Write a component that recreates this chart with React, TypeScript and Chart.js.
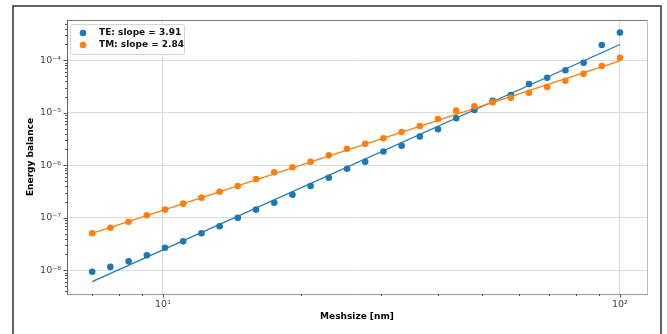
import React, { useEffect, useRef } from 'react';
import { Chart, registerables } from 'chart.js';

Chart.register(...registerables);

// ---- data ----
const meshsize = [7.0, 7.67, 8.41, 9.22, 10.1, 11.07, 12.14, 13.3, 14.58, 15.98, 17.52, 19.2, 21.04, 23.06, 25.28, 27.7, 30.37, 33.28, 36.48, 39.98, 43.82, 48.03, 52.64, 57.7, 63.24, 69.31, 75.97, 83.27, 91.26, 100.0];
const teEnergy = [9.4e-9, 1.16e-8, 1.48e-8, 1.93e-8, 2.69e-8, 3.56e-8, 5.07e-8, 6.89e-8, 1.0e-7, 1.43e-7, 1.94e-7, 2.75e-7, 4.03e-7, 5.81e-7, 8.61e-7, 1.17e-6, 1.83e-6, 2.36e-6, 3.54e-6, 4.85e-6, 7.86e-6, 1.13e-5, 1.7e-5, 2.18e-5, 3.54e-5, 4.66e-5, 6.45e-5, 9.0e-5, 1.95e-4, 3.39e-4];
const tmEnergy = [5.07e-8, 6.47e-8, 8.43e-8, 1.12e-7, 1.43e-7, 1.86e-7, 2.42e-7, 3.14e-7, 4.03e-7, 5.48e-7, 7.36e-7, 9.16e-7, 1.17e-6, 1.55e-6, 2.07e-6, 2.58e-6, 3.27e-6, 4.31e-6, 5.61e-6, 7.62e-6, 1.1e-5, 1.33e-5, 1.59e-5, 1.94e-5, 2.41e-5, 3.1e-5, 4.08e-5, 5.56e-5, 7.78e-5, 1.12e-4];
const fitMeshsize = [7, 100];
const teFit = [6.1e-9, 2.0e-4];
const tmFit = [5.05e-8, 9.8e-5];
const seriesLabels = ['TE: slope = 3.91', 'TM: slope = 2.84'];

const xMajorTicks = [10, 100];
const xTickLabels = ['10\u00B9', '10\u00B2'];
const yMajorTicks = [1e-8, 1e-7, 1e-6, 1e-5, 1e-4];
const yTickLabels = ['10\u207B\u2078', '10\u207B\u2077', '10\u207B\u2076', '10\u207B\u2075', '10\u207B\u2074'];
const minorMultipliers = [2, 3, 4, 5, 6, 7, 8, 9];
const xRange = [6.165, 114.6];
const yRange = [3.537e-9, 5.856e-4];
const xTitle = 'Meshsize [nm]';
const yTitle = 'Energy balance';

const BLUE = '#1f77b4';
const ORANGE = '#ff7f0e';
const FONT = "'DejaVu Sans', sans-serif";

function buildTicks(majors: number[], labels: string[], range: number[]) {
  const ticks: any[] = majors.map((v, i) => ({ value: v, major: true, lbl: labels[i] }));
  const lo = Math.floor(Math.log10(range[0]));
  const hi = Math.floor(Math.log10(range[1]));
  for (let e = lo; e <= hi; e++) {
    const base = Number('1e' + e);
    for (const m of minorMultipliers) {
      const v = m * base;
      if (v >= range[0] && v <= range[1]) ticks.push({ value: v, major: false, lbl: '' });
    }
  }
  ticks.sort((a, b) => a.value - b.value);
  return ticks;
}

const decorPlugin = {
  id: 'decor',
  beforeDraw(chart: any) {
    const ctx = chart.ctx;
    ctx.save();
    ctx.fillStyle = '#ffffff';
    ctx.fillRect(0, 0, chart.width, chart.height);
    ctx.strokeStyle = '#3c3c3c';
    ctx.lineWidth = 1.6;
    ctx.strokeRect(13, 6, 648, 360);
    ctx.restore();
  },
  afterDraw(chart: any) {
    const ctx = chart.ctx;
    const a = chart.chartArea;
    const xs = chart.scales.x;
    const ys = chart.scales.y;
    ctx.save();
    // spines top / right
    ctx.lineWidth = 1;
    ctx.strokeStyle = '#777';
    ctx.beginPath();
    ctx.moveTo(a.left, a.top + 0.5);
    ctx.lineTo(a.right, a.top + 0.5);
    ctx.stroke();
    ctx.strokeStyle = '#bbb';
    ctx.beginPath();
    ctx.moveTo(a.right + 0.5, a.top);
    ctx.lineTo(a.right + 0.5, a.bottom);
    ctx.stroke();
    // tick marks
    ctx.strokeStyle = '#444';
    ctx.lineWidth = 0.9;
    for (const t of xs.ticks) {
      const px = Math.round(xs.getPixelForValue(t.value)) + 0.5;
      const len = t.major ? 3.5 : 2;
      ctx.beginPath();
      ctx.moveTo(px, a.bottom);
      ctx.lineTo(px, a.bottom + len);
      ctx.stroke();
    }
    for (const t of ys.ticks) {
      const py = Math.round(ys.getPixelForValue(t.value)) + 0.5;
      const len = t.major ? 3.5 : 2;
      ctx.beginPath();
      ctx.moveTo(a.left - len, py);
      ctx.lineTo(a.left, py);
      ctx.stroke();
    }
    // legend
    const items = chart.data.datasets.filter((d: any) => d.inLegend).sort((p: any, q: any) => p.legendIndex - q.legendIndex);
    const lx = a.left + 3.5;
    const ly = a.top + 4.5;
    const rowH = 12;
    ctx.font = `bold 9px ${FONT}`;
    let maxW = 0;
    for (const it of items) maxW = Math.max(maxW, ctx.measureText(it.label).width);
    const w = 16 + 16 + maxW - 3;
    const h = items.length * rowH + 6;
    ctx.fillStyle = 'rgba(255,255,255,0.85)';
    ctx.strokeStyle = '#d4d4d4';
    ctx.lineWidth = 1;
    ctx.beginPath();
    (ctx as any).roundRect(lx, ly, w, h, 2);
    ctx.fill();
    ctx.stroke();
    items.forEach((it: any, i: number) => {
      const cy = ly + 8.5 + i * rowH;
      ctx.fillStyle = it.backgroundColor;
      ctx.beginPath();
      ctx.arc(lx + 12.5, cy, 3.3, 0, Math.PI * 2);
      ctx.fill();
      ctx.fillStyle = '#111';
      ctx.textBaseline = 'middle';
      ctx.textAlign = 'left';
      ctx.fillText(it.label, lx + 28.5, cy);
    });
    ctx.restore();
  },
};

export default function App() {
  const ref = useRef<HTMLCanvasElement | null>(null);
  useEffect(() => {
    if (!ref.current) return;
    const pts = (xs: number[], ys: number[]) => xs.map((x, i) => ({ x, y: ys[i] }));
    const chart = new Chart(ref.current, {
      type: 'scatter',
      data: {
        datasets: [
          {
            label: seriesLabels[1], data: pts(meshsize, tmEnergy), backgroundColor: ORANGE, borderColor: ORANGE,
            pointRadius: 3.3, pointBorderWidth: 0, showLine: false, order: 0, inLegend: true, legendIndex: 1,
          } as any,
          {
            label: seriesLabels[0], data: pts(meshsize, teEnergy), backgroundColor: BLUE, borderColor: BLUE,
            pointRadius: 3.3, pointBorderWidth: 0, showLine: false, order: 1, inLegend: true, legendIndex: 0,
          } as any,
          {
            label: 'TM fit', data: pts(fitMeshsize, tmFit), borderColor: ORANGE, backgroundColor: ORANGE,
            showLine: true, pointRadius: 0, borderWidth: 1.3, order: 2,
          } as any,
          {
            label: 'TE fit', data: pts(fitMeshsize, teFit), borderColor: BLUE, backgroundColor: BLUE,
            showLine: true, pointRadius: 0, borderWidth: 1.3, order: 3,
          } as any,
        ],
      },
      options: {
        animation: false,
        responsive: false,
        devicePixelRatio: 1,
        layout: { padding: { left: 0, top: 20, right: 20, bottom: 0 } },
        plugins: { legend: { display: false }, tooltip: { enabled: false }, title: { display: false } },
        scales: {
          x: {
            type: 'logarithmic',
            min: xRange[0],
            max: xRange[1],
            bounds: 'data',
            afterBuildTicks: (s: any) => { s.ticks = buildTicks(xMajorTicks, xTickLabels, xRange); },
            afterFit: (s: any) => { s.height = 40; },
            ticks: {
              autoSkip: false, maxRotation: 0, padding: 5, color: '#444',
              font: { family: FONT, size: 9.5 },
              callback: (_v: any, i: number, ticks: any[]) => ticks[i].lbl,
            },
            grid: {
              drawTicks: false,
              color: (c: any) => (c.tick && c.tick.major ? '#dcdcdc' : 'rgba(0,0,0,0)'),
              lineWidth: 1,
            },
            border: { display: true, color: '#999', width: 1 },
            title: {
              display: true, text: xTitle, color: '#000',
              font: { family: FONT, size: 9, weight: 'bold' },
              padding: { top: 0, bottom: 12 },
            },
          },
          y: {
            type: 'logarithmic',
            min: yRange[0],
            max: yRange[1],
            bounds: 'data',
            afterBuildTicks: (s: any) => { s.ticks = buildTicks(yMajorTicks, yTickLabels, yRange); },
            afterFit: (s: any) => { s.width = 67; },
            ticks: {
              autoSkip: false, padding: 6, color: '#444',
              font: { family: FONT, size: 9.5 },
              callback: (_v: any, i: number, ticks: any[]) => ticks[i].lbl,
            },
            grid: {
              drawTicks: false,
              color: (c: any) => (c.tick && c.tick.major ? '#dcdcdc' : 'rgba(0,0,0,0)'),
              lineWidth: 1,
            },
            border: { display: true, color: '#666', width: 1 },
            title: {
              display: true, text: yTitle, color: '#000',
              font: { family: FONT, size: 9, weight: 'bold' },
              padding: { top: 25, bottom: 0 },
            },
          },
        },
      } as any,
      plugins: [decorPlugin],
    });
    return () => chart.destroy();
  }, []);
  return (
    <div style={{ position: 'fixed', left: 0, top: 0, width: 667, height: 334, background: '#fff' }}>
      <canvas ref={ref} width={667} height={334} style={{ display: 'block' }} />
    </div>
  );
}
